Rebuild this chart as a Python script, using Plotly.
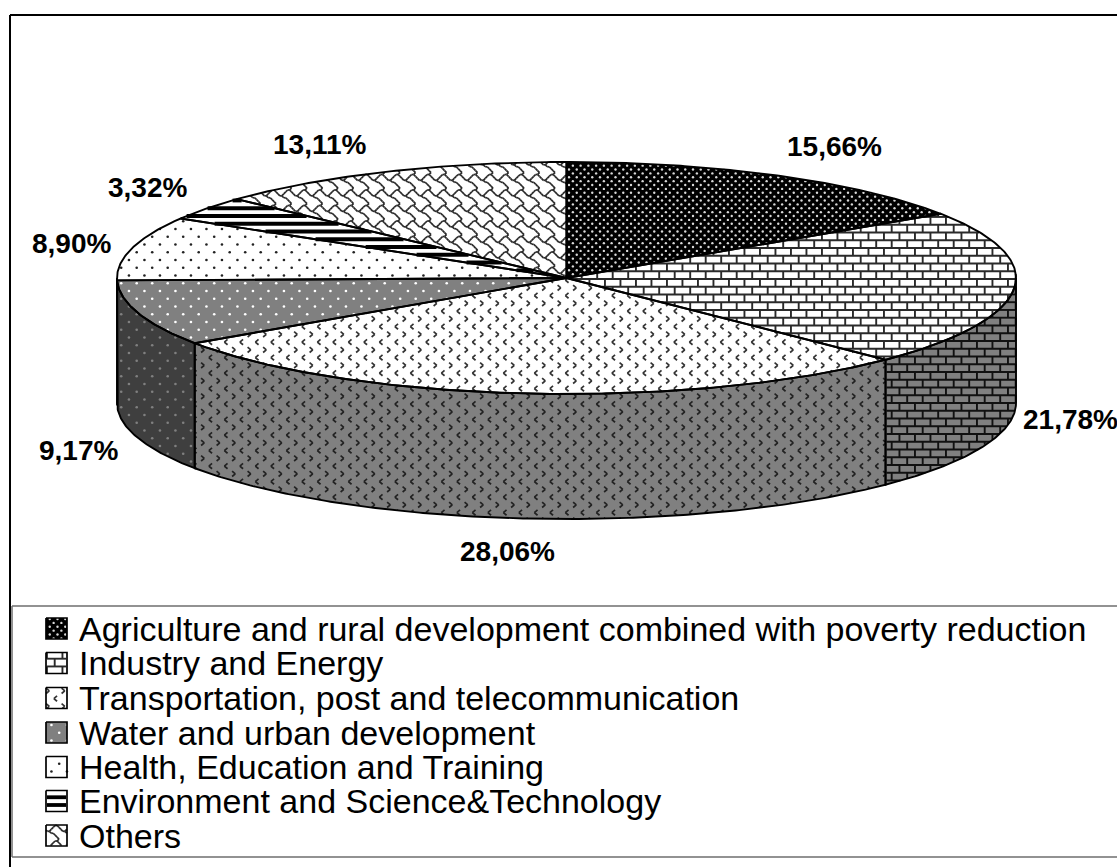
import numpy as np
import plotly.graph_objects as go

# Investment shares by sector, clockwise from twelve o'clock
SECTORS = [
    "Agriculture and rural development combined with poverty reduction",
    "Industry and Energy",
    "Transportation, post and telecommunication",
    "Water and urban development",
    "Health, Education and Training",
    "Environment and Science&Technology",
    "Others",
]
SHARES = [15.66, 21.78, 28.06, 9.17, 8.90, 3.32, 13.11]

# Centres of the percentage labels, in page pixels
LABEL_X = [834, 1021, 507, 78, 71, 147, 320]
LABEL_Y = [146, 419, 551, 450, 243, 187, 144]
LABEL_ANCHOR = ["center", "left", "center", "center", "center", "center", "center"]

# Vertical centres of the legend rows
LEGEND_Y = [628.5, 663, 698, 732.5, 767, 801, 835.5]
SWATCH_X, SWATCH_SIZE = 46, 21
LEGEND_TEXT_X = 77

# Ellipse of the pie top and height of the drum wall
CX, CY, RX, RY, DEPTH = 566.5, 278, 449.5, 116, 125
TILE = 15.5

# Fill, texture kind and texture colour per sector: top face and wall
STYLES = [
    {"top": ("#000000", "dots_fine", "#d9d9d9"), "wall": ("#000000", "dots_fine", "#808080")},
    {"top": ("#ffffff", "brick", "#2a2a2a"), "wall": ("#808080", "brick", "#111111")},
    {"top": ("#ffffff", "chevron", "#333333"), "wall": ("#808080", "chevron", "#222222")},
    {"top": ("#808080", "dots", "#ffffff"), "wall": ("#3f3f3f", "dots", "#808080")},
    {"top": ("#ffffff", "dots", "#222222"), "wall": ("#808080", "dots", "#222222")},
    {"top": ("#ffffff", "stripes", "#000000"), "wall": ("#808080", "stripes", "#000000")},
    {"top": ("#ffffff", "shingle", "#2a2a2a"), "wall": ("#808080", "shingle", "#1c1c1c")},
]
SHINGLE_PATHS = [
    [(0, 1), (1, 2), (2, 3), (3, 3), (4, 4), (5, 4), (6, 5), (7, 6), (8, 7), (7, 8)],
    [(3, 3), (4, 2), (5, 1), (6, 0), (7, 0), (8, 1)],
]


def rim(theta_deg, drop=0.0):
    t = np.radians(theta_deg)
    return CX + RX * np.sin(t), CY - RY * np.cos(t) + drop


def inside(px, py, poly):
    vx, vy = poly
    wx, wy = np.roll(vx, -1), np.roll(vy, -1)
    hit = np.zeros(px.shape, dtype=bool)
    for ax, ay, bx, by in zip(vx, vy, wx, wy):
        if ay == by:
            continue
        crosses = (ay > py) != (by > py)
        hit ^= crosses & (px < (bx - ax) * (py - ay) / (by - ay) + ax)
    return hit


def tile_range(lo, hi, phase, step):
    first = np.floor((lo - phase) / step) - 1
    last = np.ceil((hi - phase) / step) + 1
    return [int(k) for k in np.arange(first, last + 1)]


def lattice(poly, dx, dy, x0, y0):
    xs, ys = [], []
    for r in tile_range(poly[1].min(), poly[1].max(), y0, dy):
        for c in tile_range(poly[0].min(), poly[0].max(), x0, dx):
            xs.append(x0 + c * dx + (r % 2) * dx / 2)
            ys.append(y0 + r * dy)
    xs, ys = np.array(xs), np.array(ys)
    keep = inside(xs, ys, poly)
    return xs[keep], ys[keep]


def clip_segments(segments, poly):
    """Cut straight segments down to the runs lying inside a polygon."""
    ox, oy = [], []
    for (ax, ay), (bx, by) in segments:
        n = max(2, int(np.hypot(bx - ax, by - ay)) + 2)
        f = np.linspace(0, 1, n)
        px, py = ax + (bx - ax) * f, ay + (by - ay) * f
        ok = inside(px, py, poly)
        if not ok.any():
            continue
        edges = np.flatnonzero(np.diff(np.r_[0, ok.astype(int), 0]))
        for s, e in zip(edges[::2], edges[1::2]):
            ox += [float(px[s]), float(px[e - 1]), None]
            oy += [float(py[s]), float(py[e - 1]), None]
    return ox, oy


def brick_segments(poly):
    x0, y0 = 705.7, 255.7
    row, col = TILE / 2, TILE
    xmin, xmax = poly[0].min() - 1, poly[0].max() + 1
    segs = []
    for r in tile_range(poly[1].min(), poly[1].max(), y0, row):
        y = y0 + r * row
        segs.append(((xmin, y), (xmax, y)))
        for c in tile_range(xmin, xmax, x0, col):
            x = x0 + c * col + (r % 2) * col / 2
            segs.append(((x, y), (x, y + row)))
    return segs


def chevron_segments(poly):
    segs = []
    x0, y0 = 481.7, 303.3
    row = TILE / 2
    for r in tile_range(poly[1].min(), poly[1].max(), y0, row):
        y = y0 + r * row
        tip = 1.6 if r % 2 == 0 else -1.6
        for c in tile_range(poly[0].min(), poly[0].max(), x0, TILE):
            x = x0 + c * TILE + (r % 2) * TILE / 2
            segs.append(((x - tip, y - 2.7), (x + tip, y)))
            segs.append(((x + tip, y), (x - tip, y + 2.7)))
    return segs


def shingle_segments(poly):
    u = TILE / 8
    x0, y0 = 400.0, 190.0
    segs = []
    for r in tile_range(poly[1].min(), poly[1].max(), y0, TILE):
        for c in tile_range(poly[0].min(), poly[0].max(), x0, TILE):
            ox, oy = x0 + c * TILE, y0 + r * TILE
            for path in SHINGLE_PATHS:
                for (a, b), (d, e) in zip(path[:-1], path[1:]):
                    segs.append(((ox + a * u, oy + b * u), (ox + d * u, oy + e * u)))
    return segs


def add_facet(fig, poly, style):
    fill, kind, ink = style
    closed_x = list(poly[0]) + [poly[0][0]]
    closed_y = list(poly[1]) + [poly[1][0]]
    fig.add_trace(go.Scatter(x=closed_x, y=closed_y, mode="lines", fill="toself",
                             fillcolor=fill, line=dict(width=0, color=fill), hoverinfo="skip"))
    if kind in ("dots", "dots_fine"):
        if kind == "dots":
            xs, ys = lattice(poly, TILE, TILE / 2, 136.7, 283.3)
            size = 2.6
        else:
            xs, ys = lattice(poly, TILE / 2, TILE / 4, 600.0, 185.0)
            size = 2.4
        fig.add_trace(go.Scatter(x=xs, y=ys, mode="markers", hoverinfo="skip",
                                 marker=dict(size=size, color=ink, line=dict(width=0))))
        return
    if kind == "stripes":
        y0, step = 216.0, TILE / 2
        xmin, xmax = poly[0].min() - 1, poly[0].max() + 1
        segs = [((xmin, y0 + r * step), (xmax, y0 + r * step))
                for r in tile_range(poly[1].min(), poly[1].max(), y0, step)]
        width = 3.8
    elif kind == "brick":
        segs, width = brick_segments(poly), 1.9
    elif kind == "chevron":
        segs, width = chevron_segments(poly), 1.7
    else:
        segs, width = shingle_segments(poly), 1.7
    ox, oy = clip_segments(segs, poly)
    fig.add_trace(go.Scatter(x=ox, y=oy, mode="lines", hoverinfo="skip",
                             line=dict(width=width, color=ink, simplify=False)))


fig = go.Figure()
outlines = []
cum = np.cumsum([0] + SHARES) / sum(SHARES) * 360

# Drum wall: only the front half of the rim faces the viewer
for i, style in enumerate(STYLES):
    a, b = max(cum[i], 90.0), min(cum[i + 1], 270.0)
    if a >= b:
        continue
    th = np.linspace(a, b, max(3, int((b - a) * 2)))
    tx, ty = rim(th)
    bx, by = rim(th[::-1], DEPTH)
    poly = (np.r_[tx, bx], np.r_[ty, by])
    add_facet(fig, poly, style["wall"])
    outlines.append(poly)

# Top face
for i, style in enumerate(STYLES):
    th = np.linspace(cum[i], cum[i + 1], max(3, int((cum[i + 1] - cum[i]) * 2)))
    tx, ty = rim(th)
    poly = (np.r_[CX, tx], np.r_[CY, ty])
    add_facet(fig, poly, style["top"])
    outlines.append(poly)

for vx, vy in outlines:
    fig.add_trace(go.Scatter(x=list(vx) + [vx[0]], y=list(vy) + [vy[0]], mode="lines",
                             hoverinfo="skip", line=dict(width=1.9, color="#000000")))

# Legend swatches share the slice textures
for y, style in zip(LEGEND_Y, STYLES):
    half = SWATCH_SIZE / 2
    sx = np.array([SWATCH_X, SWATCH_X + SWATCH_SIZE, SWATCH_X + SWATCH_SIZE, SWATCH_X], dtype=float)
    sy = np.array([y - half, y - half, y + half, y + half], dtype=float)
    add_facet(fig, (sx, sy), style["top"])
    fig.add_trace(go.Scatter(x=list(sx) + [sx[0]], y=list(sy) + [sy[0]], mode="lines",
                             hoverinfo="skip", line=dict(width=1.7, color="#000000")))

annotations = []
for share, x, y, anchor in zip(SHARES, LABEL_X, LABEL_Y, LABEL_ANCHOR):
    annotations.append(dict(x=x, y=y, xref="x", yref="y", xanchor=anchor, yanchor="middle",
                            showarrow=False, text=f"<b>{share:.2f}%</b>".replace(".", ","),
                            font=dict(family="Liberation Sans", size=28, color="#000000")))
for name, y in zip(SECTORS, LEGEND_Y):
    annotations.append(dict(x=LEGEND_TEXT_X, y=y, xref="x", yref="y", xanchor="left", yanchor="middle",
                            showarrow=False, text=name,
                            font=dict(family="Liberation Sans", size=34, color="#000000")))

# Chart frame (top and left only reach the page) and the legend box
frame = dict(type="line", xref="x", yref="y", line=dict(color="#000000", width=2))
box = dict(type="line", xref="x", yref="y", line=dict(color="#6e6e6e", width=1.5))
shapes = [
    dict(frame, x0=10, x1=1117, y0=15, y1=15),
    dict(frame, x0=10, x1=10, y0=15, y1=867),
    dict(box, x0=12, x1=1117, y0=606, y1=606),
    dict(box, x0=12, x1=1117, y0=857, y1=857),
    dict(box, x0=12, x1=12, y0=606, y1=857),
]

fig.update_layout(
    width=1117, height=867, autosize=False,
    margin=dict(l=0, r=0, t=0, b=0),
    paper_bgcolor="#ffffff", plot_bgcolor="#ffffff",
    showlegend=False,
    annotations=annotations, shapes=shapes,
    xaxis=dict(range=[0, 1117], visible=False, fixedrange=True),
    yaxis=dict(range=[867, 0], visible=False, fixedrange=True),
)
fig.write_html("out.html", config={"displayModeBar": False})
